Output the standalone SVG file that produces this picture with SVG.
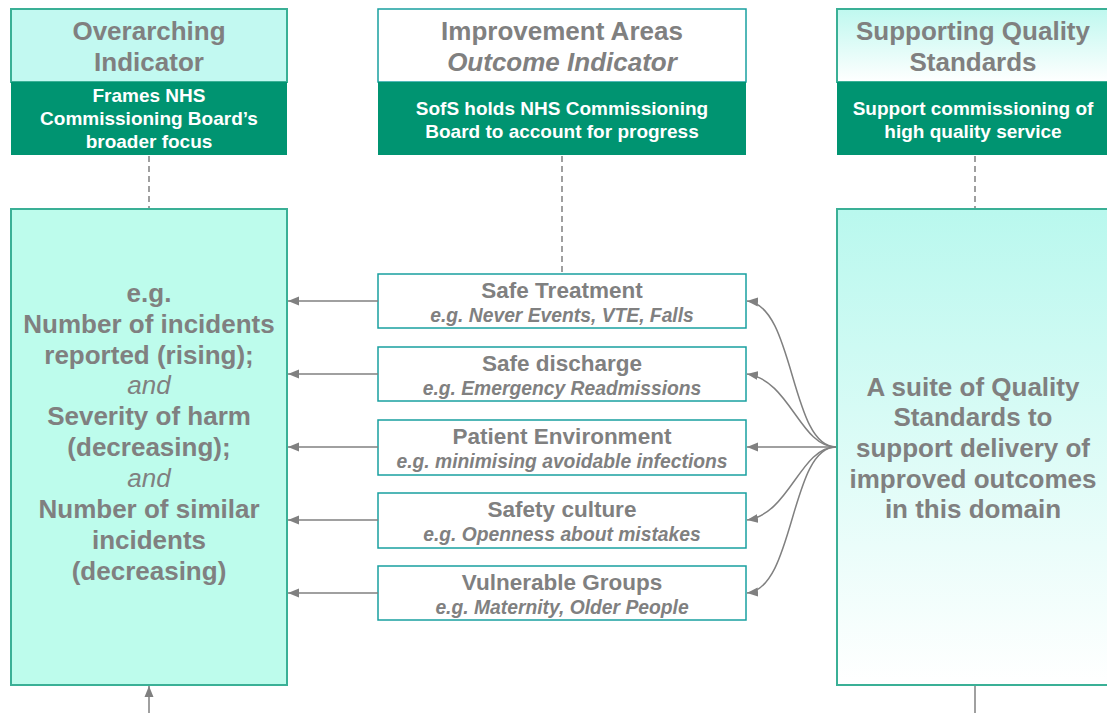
<svg xmlns="http://www.w3.org/2000/svg" width="1107" height="713" viewBox="0 0 1107 713">
<defs>
<linearGradient id="gTop" x1="0" y1="0" x2="0" y2="1"><stop offset="0" stop-color="#bff8ef"/><stop offset="1" stop-color="#ffffff"/></linearGradient>
<linearGradient id="gBig" x1="0" y1="0" x2="0" y2="1"><stop offset="0" stop-color="#b9f8ee"/><stop offset="1" stop-color="#ffffff"/></linearGradient>
<marker id="ah" markerUnits="userSpaceOnUse" markerWidth="12" markerHeight="10" refX="11" refY="5" orient="auto"><path d="M0,0.5 L11,5 L0,9.5 z" fill="#808080"/></marker>
<style>
.t{font-family:"Liberation Sans",Arial,sans-serif;font-weight:bold;fill:#808080;text-anchor:middle}
.h{font-size:26px}
.w{font-family:"Liberation Sans",Arial,sans-serif;font-weight:bold;fill:#ffffff;text-anchor:middle;font-size:19px}
.big{font-size:26px}
.st{font-size:22.5px}
.sub{font-size:19.3px;font-style:italic}
.i{font-style:italic;font-weight:normal}
.dark{fill:#009471}
.lb{stroke:#3ab096;stroke-width:2}
.mb{fill:#ffffff;stroke:#18a0a0;stroke-width:1.5}
.c{fill:none;stroke:#808080;stroke-width:1.5}
.d{fill:none;stroke:#808080;stroke-width:1.5;stroke-dasharray:6,4}
</style>
</defs>

<g id="overarching-header">
<rect x="11" y="9" width="276" height="73" fill="#c2f9f1" class="lb"/>
<rect x="11" y="82" width="276" height="73" class="dark"/>
<text class="t h" x="149" y="40">Overarching</text>
<text class="t h" x="149" y="71">Indicator</text>
<text class="w" x="149" y="102">Frames NHS</text>
<text class="w" x="149" y="125">Commissioning Board’s</text>
<text class="w" x="149" y="148">broader focus</text>
</g>

<g id="improvement-header">
<rect x="378" y="9" width="368" height="73" fill="#ffffff" class="mb"/>
<rect x="378" y="82" width="368" height="73" class="dark"/>
<text class="t h" x="562" y="40">Improvement Areas</text>
<text class="t h" x="562" y="71" font-style="italic">Outcome Indicator</text>
<text class="w" x="562" y="115">SofS holds NHS Commissioning</text>
<text class="w" x="562" y="138">Board to account for progress</text>
</g>

<g id="quality-header">
<rect x="837" y="9" width="290" height="73" fill="url(#gTop)" class="lb"/>
<rect x="837" y="82" width="290" height="73" class="dark"/>
<text class="t h" x="973" y="40">Supporting Quality</text>
<text class="t h" x="973" y="71">Standards</text>
<text class="w" x="973" y="115">Support commissioning of</text>
<text class="w" x="973" y="138">high quality service</text>
</g>

<g id="overarching-body">
<rect x="11" y="209" width="276" height="476" fill="#bdfcec" class="lb"/>
<text class="t big" x="149" y="302">e.g.</text>
<text class="t big" x="149" y="333">Number of incidents</text>
<text class="t big" x="149" y="364">reported (rising);</text>
<text class="t big i" x="149" y="394">and</text>
<text class="t big" x="149" y="425">Severity of harm</text>
<text class="t big" x="149" y="456">(decreasing);</text>
<text class="t big i" x="149" y="487">and</text>
<text class="t big" x="149" y="518">Number of similar</text>
<text class="t big" x="149" y="549">incidents</text>
<text class="t big" x="149" y="580">(decreasing)</text>
</g>

<g id="quality-body">
<rect x="837" y="209" width="290" height="476" fill="url(#gBig)" class="lb"/>
<text class="t big" x="973" y="396">A suite of Quality</text>
<text class="t big" x="973" y="426">Standards to</text>
<text class="t big" x="973" y="457">support delivery of</text>
<text class="t big" x="973" y="488">improved outcomes</text>
<text class="t big" x="973" y="518">in this domain</text>
</g>

<g id="safe-treatment">
<rect x="378" y="274" width="368" height="54" class="mb"/>
<text class="t st" x="562" y="298">Safe Treatment</text>
<text class="t sub" x="562" y="322">e.g. Never Events, VTE, Falls</text>
</g>
<g id="safe-discharge">
<rect x="378" y="347" width="368" height="54" class="mb"/>
<text class="t st" x="562" y="371">Safe discharge</text>
<text class="t sub" x="562" y="395">e.g. Emergency Readmissions</text>
</g>
<g id="patient-environment">
<rect x="378" y="420" width="368" height="55" class="mb"/>
<text class="t st" x="562" y="444">Patient Environment</text>
<text class="t sub" x="562" y="468">e.g. minimising avoidable infections</text>
</g>
<g id="safety-culture">
<rect x="378" y="493" width="368" height="55" class="mb"/>
<text class="t st" x="562" y="517">Safety culture</text>
<text class="t sub" x="562" y="541">e.g. Openness about mistakes</text>
</g>
<g id="vulnerable-groups">
<rect x="378" y="566" width="368" height="54" class="mb"/>
<text class="t st" x="562" y="590">Vulnerable Groups</text>
<text class="t sub" x="562" y="614">e.g. Maternity, Older People</text>
</g>

<g id="connectors">
<line class="d" x1="149" y1="156" x2="149" y2="208"/>
<line class="d" x1="562" y1="156" x2="562" y2="273"/>
<line class="d" x1="975" y1="156" x2="975" y2="208"/>
<line class="c" x1="378" y1="301" x2="288" y2="301" marker-end="url(#ah)"/>
<line class="c" x1="378" y1="374" x2="288" y2="374" marker-end="url(#ah)"/>
<line class="c" x1="378" y1="447" x2="288" y2="447" marker-end="url(#ah)"/>
<line class="c" x1="378" y1="520" x2="288" y2="520" marker-end="url(#ah)"/>
<line class="c" x1="378" y1="593" x2="288" y2="593" marker-end="url(#ah)"/>
<path class="c" d="M836,447 C790,447 795,305 747,301" marker-end="url(#ah)"/>
<path class="c" d="M836,447 C800,447 790,380 747,374" marker-end="url(#ah)"/>
<path class="c" d="M836,447 L747,447" marker-end="url(#ah)"/>
<path class="c" d="M836,447 C800,447 790,514 747,520" marker-end="url(#ah)"/>
<path class="c" d="M836,447 C790,447 795,589 747,593" marker-end="url(#ah)"/>
<line class="c" x1="149" y1="713" x2="149" y2="686" marker-end="url(#ah)"/>
<line class="c" x1="975" y1="686" x2="975" y2="713" stroke-width="2"/>
</g>
</svg>
